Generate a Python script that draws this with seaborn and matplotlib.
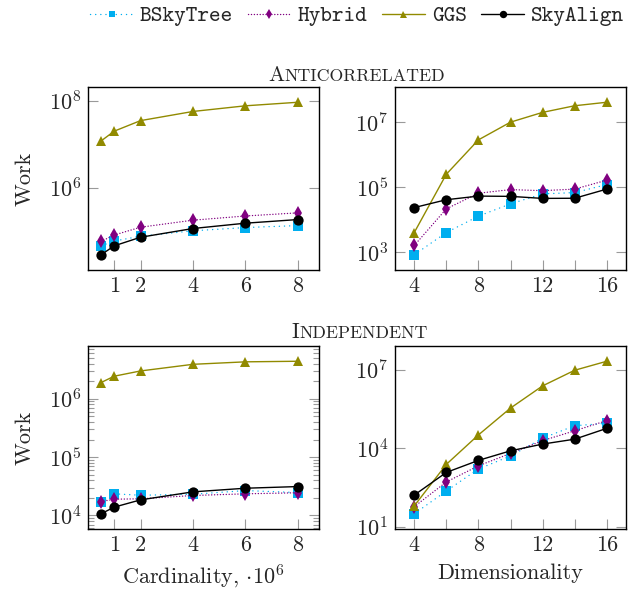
import numpy as np
import pandas as pd
import seaborn as sns
import matplotlib
matplotlib.use("Agg")
import matplotlib.pyplot as plt
from matplotlib.lines import Line2D
from matplotlib.ticker import FixedLocator, NullLocator, LogLocator, LogFormatterMathtext, FuncFormatter

# ---------------- data ----------------
series = ["BSkyTree", "Hybrid", "GGS", "SkyAlign"]
card_x = [0.5, 1, 2, 4, 6, 8]
dim_x = [4, 6, 8, 10, 12, 14, 16]

anti_card = {
    "BSkyTree": [4.5e4, 5.8e4, 7.5e4, 1.0e5, 1.19e5, 1.32e5],
    "Hybrid":   [5.7e4, 8.0e4, 1.21e5, 1.76e5, 2.2e5, 2.6e5],
    "GGS":      [1.19e7, 2.0e7, 3.5e7, 5.7e7, 7.7e7, 9.3e7],
    "SkyAlign": [2.8e4, 4.5e4, 7.1e4, 1.13e5, 1.5e5, 1.82e5],
}
anti_dim = {
    "BSkyTree": [8.3e2, 4.0e3, 1.28e4, 3.06e4, 6.2e4, 6.8e4, 1.2e5],
    "Hybrid":   [1.6e3, 2.15e4, 6.5e4, 8.4e4, 7.8e4, 8.7e4, 1.64e5],
    "GGS":      [4.0e3, 2.5e5, 2.85e6, 1.0e7, 2.0e7, 3.2e7, 4.1e7],
    "SkyAlign": [2.35e4, 4.1e4, 5.3e4, 5.2e4, 4.5e4, 4.55e4, 8.7e4],
}
indep_card = {
    "BSkyTree": [1.71e4, 2.35e4, 2.22e4, 2.31e4, 2.67e4, 2.47e4],
    "Hybrid":   [1.73e4, 1.9e4, 1.93e4, 2.2e4, 2.35e4, 2.45e4],
    "GGS":      [1.9e6, 2.44e6, 3.0e6, 3.9e6, 4.3e6, 4.4e6],
    "SkyAlign": [1.07e4, 1.39e4, 1.85e4, 2.54e4, 2.93e4, 3.13e4],
}
indep_dim = {
    "BSkyTree": [31, 2.3e2, 1.6e3, 5.0e3, 2.4e4, 7.2e4, 8.9e4],
    "Hybrid":   [58, 5.1e2, 2.1e3, 6.3e3, 1.94e4, 4.6e4, 1.13e5],
    "GGS":      [62, 2.4e3, 3.2e4, 3.4e5, 2.4e6, 9.5e6, 2.1e7],
    "SkyAlign": [1.6e2, 1.18e3, 3.4e3, 7.9e3, 1.43e4, 2.2e4, 5.7e4],
}

card_ticks = [1, 2, 4, 6, 8]
dim_ticks = [4, 6, 8, 10, 12, 14, 16]
dim_labels = [4, 8, 12, 16]

# ---------------- style ----------------
sns.set_style("ticks")
plt.rcParams.update({
    "font.family": "cmr10",
    "mathtext.fontset": "cm",
    "axes.formatter.use_mathtext": True,
    "axes.unicode_minus": False,
    "font.size": 16,
})

palette = {"BSkyTree": "#00aeef", "Hybrid": "#800080", "GGS": "#918a00", "SkyAlign": "#000000"}
markers = {"BSkyTree": "s", "Hybrid": "d", "GGS": "^", "SkyAlign": "o"}
dashes = {"BSkyTree": (0.1, 3.6), "Hybrid": (0.1, 2.0), "GGS": "", "SkyAlign": ""}
msizes = {"BSkyTree": 6.6, "Hybrid": 7.0, "GGS": 7.0, "SkyAlign": 7.4}

W, H = 637, 592
fig = plt.figure(figsize=(W / 100, H / 100), dpi=100)


def px_axes(l, t, r, b):
    return fig.add_axes([l / W, 1 - b / H, (r - l) / W, (b - t) / H])


def long_df(x, d):
    rows = []
    for s in series:
        for xi, yi in zip(x, d[s]):
            rows.append({"x": xi, "y": yi, "series": s})
    return pd.DataFrame(rows)


def draw(ax, x, d, xlim, xticks, xlabels, yticks, minor=False):
    df = long_df(x, d)
    for s in series:
        sub = df[df["series"] == s]
        sns.lineplot(data=sub, x="x", y="y", ax=ax, color=palette[s],
                     marker=markers[s], markersize=msizes[s], markeredgewidth=0,
                     linewidth=1.0, dash_capstyle="round", legend=False, errorbar=None)
        ln = ax.lines[-1]
        if dashes[s]:
            ln.set_dashes(dashes[s])
    ax.set_yscale("log")
    allv = np.concatenate([np.log10(d[s]) for s in series])
    lo, hi = allv.min(), allv.max()
    pad = 0.1 * (hi - lo)
    ax.set_ylim(10 ** (lo - pad), 10 ** (hi + pad))
    ax.set_xlim(*xlim)
    ax.xaxis.set_major_locator(FixedLocator(xticks))
    ax.xaxis.set_major_formatter(FuncFormatter(lambda v, p: f"{int(round(v))}" if int(round(v)) in xlabels else ""))
    ax.xaxis.set_minor_locator(NullLocator())
    ax.yaxis.set_major_locator(FixedLocator(yticks))
    ax.yaxis.set_major_formatter(LogFormatterMathtext())
    if minor:
        ax.yaxis.set_minor_locator(LogLocator(base=10, subs=np.arange(2, 10), numticks=20))
    else:
        ax.yaxis.set_minor_locator(NullLocator())
    ax.tick_params(axis="both", which="major", direction="in", length=7, width=0.8,
                   color="#9a9a9a", labelsize=16, pad=5)
    ax.tick_params(axis="y", which="both", left=True, right=True)
    ax.tick_params(axis="y", which="minor", direction="in", length=4.2, width=0.8, color="#9a9a9a")
    ax.tick_params(axis="x", top=False)
    for sp in ax.spines.values():
        sp.set_visible(True)
        sp.set_linewidth(1.0)
        sp.set_color("black")
    ax.set_xlabel("")
    ax.set_ylabel("")


ax1 = px_axes(88, 87, 319, 270)
ax2 = px_axes(395, 87, 626, 270)
ax3 = px_axes(88, 346, 319, 529)
ax4 = px_axes(395, 346, 626, 529)

draw(ax1, card_x, anti_card, (0.0, 8.8), card_ticks, card_ticks, [1e6, 1e8])
draw(ax2, dim_x, anti_dim, (2.8, 17.2), dim_ticks, dim_labels, [1e3, 1e5, 1e7])
draw(ax3, card_x, indep_card, (0.0, 8.8), card_ticks, card_ticks, [1e4, 1e5, 1e6], minor=True)
draw(ax4, dim_x, indep_dim, (2.8, 17.2), dim_ticks, dim_labels, [1e1, 1e4, 1e7])

ax1.set_ylabel("Work", fontsize=16, labelpad=10)
ax3.set_ylabel("Work", fontsize=16, labelpad=10)
ax3.set_xlabel(r"Cardinality, $\cdot\mathdefault{10^{6}}$", fontsize=16, labelpad=5)
ax4.set_xlabel("Dimensionality", fontsize=16, labelpad=6)

# ---------------- small-caps titles ----------------
renderer = fig.canvas.get_renderer()


def smallcaps(xc_px, base_px, big, rest, s_big=15.5, s_small=12.8):
    t1 = fig.text(0, 1 - base_px / H, big, fontsize=s_big, va="baseline", ha="left")
    t2 = fig.text(0, 1 - base_px / H, rest, fontsize=s_small, va="baseline", ha="left")
    w1 = t1.get_window_extent(renderer).width
    w2 = t2.get_window_extent(renderer).width
    x0 = xc_px - (w1 + w2) / 2
    t1.set_x(x0 / W)
    t2.set_x((x0 + w1) / W)


smallcaps(357, 80.7, "A", "NTICORRELATED")
smallcaps(360, 338.3, "I", "NDEPENDENT")

# ---------------- legend ----------------
handles = []
for s in series:
    h = Line2D([], [], color=palette[s], marker=markers[s], markersize=msizes[s] * 0.72,
               markeredgewidth=0, linewidth=1.0, dash_capstyle="round")
    if dashes[s]:
        h.set_dashes(dashes[s])
    handles.append(h)
fig.legend(handles, series, loc="center", bbox_to_anchor=(357 / W, 1 - 16 / H), ncol=4,
           frameon=False, handlelength=1.95, handletextpad=0.3, columnspacing=0.65,
           borderpad=0, borderaxespad=0, prop={"family": "cmtt10", "size": 16})

fig.savefig("out.png", dpi=100)
